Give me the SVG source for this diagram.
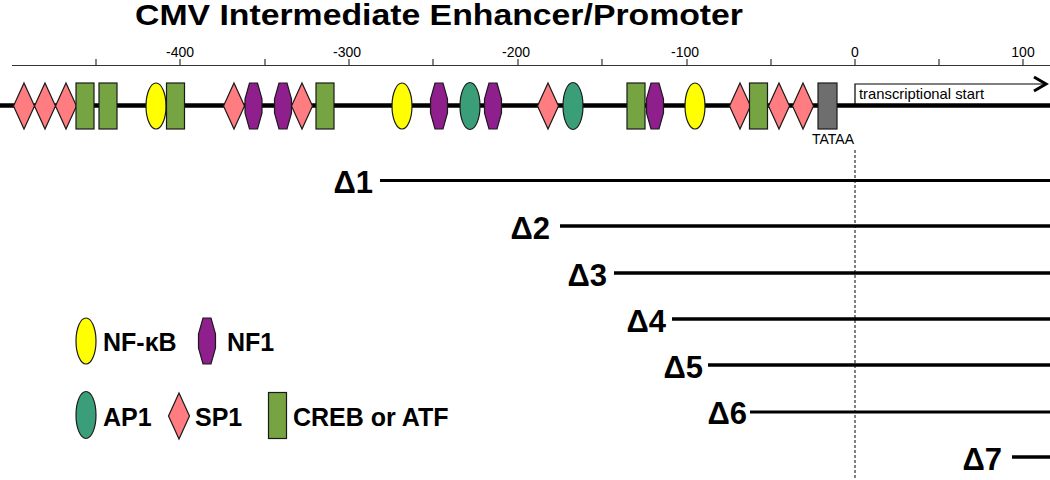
<svg xmlns="http://www.w3.org/2000/svg" xmlns:xlink="http://www.w3.org/1999/xlink" width="1050" height="480" viewBox="0 0 1050 480">
<style>
text{font-family:"Liberation Sans",Arial,sans-serif;fill:#000}
.title{font-size:30px;font-weight:bold}
.tick{font-size:14px;text-anchor:middle}
.small{font-size:14px}
.delta{font-size:31px;font-weight:bold;text-anchor:end}
.leg{font-size:25px;font-weight:bold}
.sh{stroke:#1a1a1a;stroke-width:1.2}
.dl{stroke:#000;stroke-width:3.5}
</style>
<defs>
<polygon id="sp1" class="sh" points="0,-23 10.5,0 0,23 -10.5,0" fill="#FF7C80"/>
<rect id="creb" class="sh" x="-9" y="-23" width="18" height="46" fill="#77A443"/>
<ellipse id="nfkb" class="sh" rx="10" ry="23" fill="#FFFF00"/>
<polygon id="nf1" class="sh" points="-4,-23 4,-23 8.5,-7 8.5,7 4,23 -4,23 -8.5,7 -8.5,-7" fill="#8E1F8C"/>
<ellipse id="ap1" class="sh" rx="10" ry="23.5" fill="#3A9E78"/>
</defs>
<rect width="1050" height="480" fill="#fff"/>
<text class="title" x="135" y="25" textLength="608" lengthAdjust="spacingAndGlyphs">CMV Intermediate Enhancer/Promoter</text>
<g id="ruler" stroke="#333" stroke-width="1.2" fill="none">
<path d="M12,65.5 H1050 M96,59 V65.5 M180,59 V65.5 M265,59 V65.5 M349,59 V65.5 M433,59 V65.5 M518,59 V65.5 M602,59 V65.5 M687,59 V65.5 M771,59 V65.5 M855,59 V65.5 M939,59 V65.5 M1023,59 V65.5"/>
</g>
<g id="ruler-labels">
<text class="tick" x="180" y="57">-400</text>
<text class="tick" x="347" y="57">-300</text>
<text class="tick" x="516" y="57">-200</text>
<text class="tick" x="685" y="57">-100</text>
<text class="tick" x="855" y="57">0</text>
<text class="tick" x="1023" y="57">100</text>
</g>
<g id="connectors">
<line id="dna" x1="0" y1="105.5" x2="1050" y2="105.5" stroke="#000" stroke-width="4.5"/>
<path id="tss" d="M855,104 V84 H1046" stroke="#000" stroke-width="1.2" fill="none"/>
<path d="M1034,77 L1046,84 L1034,91" stroke="#000" stroke-width="3" fill="none"/>
<line x1="855" y1="150" x2="855" y2="480" stroke="#000" stroke-width="1" stroke-dasharray="3,2"/>
<line class="dl" id="d1" x1="380" y1="180.5" x2="1050" y2="180.5" style="stroke-width:3"/>
<line class="dl" id="d2" x1="560" y1="226" x2="1050" y2="226"/>
<line class="dl" id="d3" x1="614" y1="273" x2="1050" y2="273"/>
<line class="dl" id="d4" x1="672" y1="319" x2="1050" y2="319"/>
<line class="dl" id="d5" x1="708" y1="365" x2="1050" y2="365"/>
<line class="dl" id="d6" x1="750" y1="412" x2="1050" y2="412" style="stroke-width:3"/>
<line class="dl" id="d7" x1="1012" y1="457" x2="1050" y2="457"/>
</g>
<g id="sites">
<g id="sp1-a"><use xlink:href="#sp1" x="24" y="106"/></g>
<g id="sp1-b"><use xlink:href="#sp1" x="45" y="106"/></g>
<g id="sp1-c"><use xlink:href="#sp1" x="66" y="106"/></g>
<g id="creb-a"><use xlink:href="#creb" x="85" y="106"/></g>
<g id="creb-b"><use xlink:href="#creb" x="108" y="106"/></g>
<g id="nfkb-a"><use xlink:href="#nfkb" x="156" y="106"/></g>
<g id="creb-c"><use xlink:href="#creb" x="175.5" y="106"/></g>
<g id="sp1-d"><use xlink:href="#sp1" x="234" y="106"/></g>
<g id="nf1-a"><use xlink:href="#nf1" x="253.5" y="106"/></g>
<g id="nf1-b"><use xlink:href="#nf1" x="283" y="106"/></g>
<g id="sp1-e"><use xlink:href="#sp1" x="302" y="106"/></g>
<g id="creb-d"><use xlink:href="#creb" x="325" y="106"/></g>
<g id="nfkb-b"><use xlink:href="#nfkb" x="402" y="106"/></g>
<g id="nf1-c"><use xlink:href="#nf1" x="439" y="106"/></g>
<g id="ap1-a"><use xlink:href="#ap1" x="470" y="106"/></g>
<g id="nf1-d"><use xlink:href="#nf1" x="493" y="106"/></g>
<g id="sp1-f"><use xlink:href="#sp1" x="548" y="106"/></g>
<g id="ap1-b"><use xlink:href="#ap1" x="573" y="106"/></g>
<g id="creb-e"><use xlink:href="#creb" x="636" y="106"/></g>
<g id="nf1-e"><use xlink:href="#nf1" x="655" y="106"/></g>
<g id="nfkb-c"><use xlink:href="#nfkb" x="695" y="106"/></g>
<g id="sp1-g"><use xlink:href="#sp1" x="740" y="106"/></g>
<g id="creb-f"><use xlink:href="#creb" x="758.5" y="106"/></g>
<g id="sp1-h"><use xlink:href="#sp1" x="779" y="106"/></g>
<g id="sp1-i"><use xlink:href="#sp1" x="803" y="106"/></g>
<g id="tataa"><rect class="sh" x="818" y="83" width="19" height="46" fill="#6E6E6E"/><text class="small" x="833" y="144" text-anchor="middle">TATAA</text></g>
</g>
<text class="small" x="859" y="99" style="font-size:14.8px">transcriptional start</text>
<g id="deltas">
<text class="delta" x="373" y="193">Δ1</text>
<text class="delta" x="550" y="239">Δ2</text>
<text class="delta" x="607" y="286">Δ3</text>
<text class="delta" x="666" y="332">Δ4</text>
<text class="delta" x="703" y="378">Δ5</text>
<text class="delta" x="747" y="424">Δ6</text>
<text class="delta" x="1002" y="470">Δ7</text>
</g>
<g id="legend">
<g id="leg-nfkb"><use xlink:href="#nfkb" x="86" y="341"/><text class="leg" x="103" y="351">NF-κB</text></g>
<g id="leg-nf1"><use xlink:href="#nf1" x="207" y="341"/><text class="leg" x="227" y="351">NF1</text></g>
<g id="leg-ap1"><use xlink:href="#ap1" x="86" y="415"/><text class="leg" x="103" y="426">AP1</text></g>
<g id="leg-sp1"><use xlink:href="#sp1" x="179" y="416"/><text class="leg" x="195" y="426">SP1</text></g>
<g id="leg-creb"><use xlink:href="#creb" x="277.5" y="415.5"/><text class="leg" x="293" y="426">CREB or ATF</text></g>
</g>
</svg>
